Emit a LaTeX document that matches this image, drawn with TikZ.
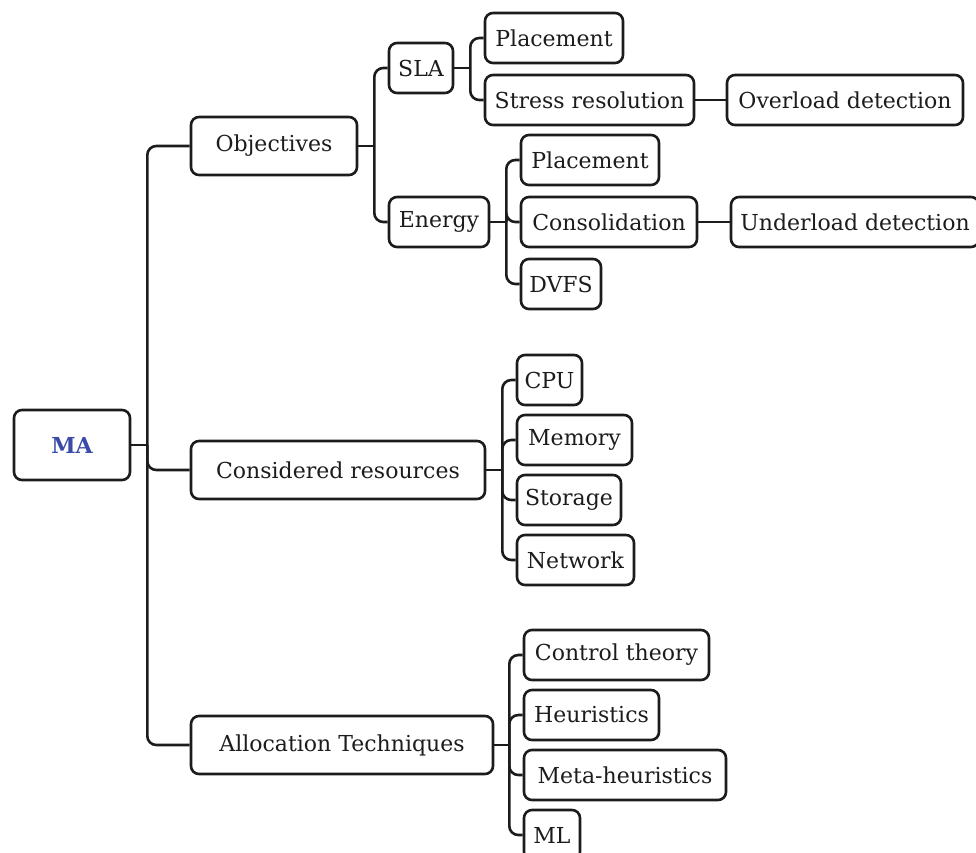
\documentclass[tikz,border=0pt]{standalone}
\usepackage{fontspec}
\setmainfont{DejaVu Serif}
\definecolor{ink}{HTML}{1C1C1C}
\definecolor{rootblue}{HTML}{3A4CA8}
\begin{document}
\begin{tikzpicture}[x=1pt,y=-1pt,
  box/.style={draw=ink, line width=2.6pt, rounded corners=8pt, fill=white,
    minimum height=50pt, inner sep=0pt, font=\fontsize{22}{25}\selectfont, text=ink},
  bigbox/.style={box, minimum height=58pt},
  edge/.style={draw=ink, line width=2.6pt, rounded corners=9pt}]
\useasboundingbox (0,0) rectangle (976,852);

% root
\node[box, minimum width=116pt, minimum height=70pt, text=rootblue,
  font=\fontsize{22}{25}\selectfont\bfseries] (ma) at (72,445) {MA};

% first level
\node[bigbox, minimum width=166pt] (obj) at (274,146) {Objectives};
\node[bigbox, minimum width=294pt] (res) at (338,470) {Considered resources};
\node[bigbox, minimum width=302pt] (alloc) at (342,745) {Allocation Techniques};

% objectives
\node[box, minimum width=64pt] (sla) at (421,68) {SLA};
\node[box, minimum width=100pt] (energy) at (439,222) {Energy};
\node[box, minimum width=138pt] (place1) at (554,38) {Placement};
\node[box, minimum width=209pt] (stress) at (589.5,100) {Stress resolution};
\node[box, minimum width=236pt] (over) at (845,100) {Overload detection};
\node[box, minimum width=138pt] (place2) at (590,160) {Placement};
\node[box, minimum width=176pt] (consol) at (609,222) {Consolidation};
\node[box, minimum width=248pt] (under) at (855,222) {Underload detection};
\node[box, minimum width=80pt] (dvfs) at (561,284) {DVFS};

% resources
\node[box, minimum width=65pt] (cpu) at (549.5,380) {CPU};
\node[box, minimum width=115pt] (mem) at (574.5,440) {Memory};
\node[box, minimum width=104pt] (sto) at (569,500) {Storage};
\node[box, minimum width=117pt] (net) at (575.5,560) {Network};

% techniques
\node[box, minimum width=185pt] (ctrl) at (616.5,655) {Control theory};
\node[box, minimum width=135pt] (heur) at (591.5,715) {Heuristics};
\node[box, minimum width=202pt] (meta) at (625,775) {Meta-heuristics};
\node[box, minimum width=56pt] (ml) at (552,835) {ML};

% junction points where each parent's stub meets its vertical rail
\coordinate (jma) at ([xshift=16pt]ma.east);
\coordinate (jobj) at ([xshift=16pt]obj.east);
\coordinate (jsla) at ([xshift=16pt]sla.east);
\coordinate (jen) at ([xshift=16pt]energy.east);
\coordinate (jres) at ([xshift=16pt]res.east);
\coordinate (jal) at ([xshift=15pt]alloc.east);

% connectors: stub from the parent, then a rail rounding into each child
\draw[edge] (ma.east) -- (jma);
\foreach \c in {obj,res,alloc} \draw[edge] (jma) |- (\c.west);
\draw[edge] (obj.east) -- (jobj);
\foreach \c in {sla,energy} \draw[edge] (jobj) |- (\c.west);
\draw[edge] (sla.east) -- (jsla);
\foreach \c in {place1,stress} \draw[edge] (jsla) |- (\c.west);
\draw[edge] (energy.east) -- (jen);
\foreach \c in {place2,consol,dvfs} \draw[edge] (jen) |- (\c.west);
\draw[edge] (res.east) -- (jres);
\foreach \c in {cpu,mem,sto,net} \draw[edge] (jres) |- (\c.west);
\draw[edge] (alloc.east) -- (jal);
\foreach \c in {ctrl,heur,meta,ml} \draw[edge] (jal) |- (\c.west);
\draw[edge] (stress.east) -- (over.west);
\draw[edge] (consol.east) -- (under.west);
\end{tikzpicture}
\end{document}
